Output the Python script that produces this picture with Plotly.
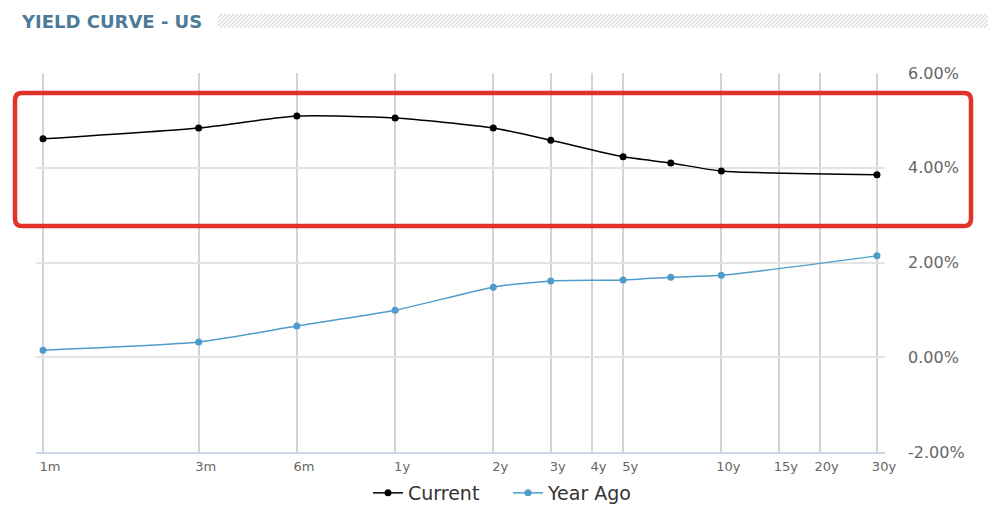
import numpy as np
import plotly.graph_objects as go

# ---------------- data ----------------
tenor_labels = ["1m", "3m", "6m", "1y", "2y", "3y", "4y", "5y", "10y", "15y", "20y", "30y"]
tenor_years = [1/12, 3/12, 6/12, 1, 2, 3, 4, 5, 10, 15, 20, 30]

point_years = [1/12, 3/12, 6/12, 1, 2, 3, 5, 7, 10, 30]
current = [4.61, 4.84, 5.09, 5.05, 4.84, 4.58, 4.23, 4.10, 3.93, 3.85]
year_ago = [0.15, 0.32, 0.66, 0.99, 1.48, 1.61, 1.63, 1.69, 1.73, 2.14]

y_ticks = [-2, 0, 2, 4, 6]
y_tick_labels = ["-2.00%", "0.00%", "2.00%", "4.00%", "6.00%"]

W, H = 1000, 526
OFF = 8  # page body margin
PX_PER_DOUBLING = 98.0
L_PX, R_PX, T_PX, B_PX = 36, 885, 73, 452


def fx(px):
    return (px - OFF) / W


def fy(py):
    return 1 - (py - OFF) / H


# log10 x range from pixel layout
lo = np.log10(1/12) - (43 - L_PX) / PX_PER_DOUBLING * np.log10(2)
hi = np.log10(30) + (R_PX - 877) / PX_PER_DOUBLING * np.log10(2)

fig = go.Figure()

fig.add_trace(go.Scatter(
    x=point_years, y=current, name="Current", mode="lines+markers",
    line=dict(color="#000000", width=1.5, shape="spline", smoothing=0.6),
    marker=dict(size=7, color="#000000"),
))
fig.add_trace(go.Scatter(
    x=point_years, y=year_ago, name="Year Ago", mode="lines+markers",
    line=dict(color="#4f9ccb", width=1.5, shape="spline", smoothing=0.6),
    marker=dict(size=7, color="#4f9ccb"),
))

shapes = []
# red highlight box with rounded corners
x0, x1, y0, y1 = fx(15), fx(971), fy(93), fy(226)
rx, ry = 7 / W, 7 / H
path = (
    f"M {x0+rx},{y0} L {x1-rx},{y0} Q {x1},{y0} {x1},{y0-ry} "
    f"L {x1},{y1+ry} Q {x1},{y1} {x1-rx},{y1} "
    f"L {x0+rx},{y1} Q {x0},{y1} {x0},{y1+ry} "
    f"L {x0},{y0-ry} Q {x0},{y0} {x0+rx},{y0} Z"
)
shapes.append(dict(type="path", xref="paper", yref="paper", path=path,
                   line=dict(color="#e2332b", width=4.5), layer="above"))

# hatched title bar
hx0, hx1, hy0, hy1 = 218, 988, 14, 28
h = hy1 - hy0
for s in np.arange(hx0 - h, hx1, 4.0):
    a, b = s, s + h
    ya, yb = hy1, hy0
    if a < hx0:
        ya = hy1 - (hx0 - a)
        a = hx0
    if b > hx1:
        yb = hy0 + (b - hx1)
        b = hx1
    if b <= a:
        continue
    shapes.append(dict(type="line", xref="paper", yref="paper",
                       x0=fx(a), y0=fy(ya), x1=fx(b), y1=fy(yb),
                       line=dict(color="#dcdcdc", width=1.2), layer="below"))

fig.update_layout(
    template="none",
    width=W, height=H,
    margin=dict(l=0, r=0, t=0, b=0, autoexpand=False),
    paper_bgcolor="white", plot_bgcolor="white",
    showlegend=True,
    legend=dict(orientation="h", x=fx(368), xanchor="left", y=fy(493), yanchor="middle",
                font=dict(family="DejaVu Sans", size=19, color="#333333"),
                itemwidth=30, entrywidth=95, tracegroupgap=0, bgcolor="rgba(0,0,0,0)"),
    font=dict(family="DejaVu Sans"),
    shapes=shapes,
    annotations=[dict(text="<b>YIELD CURVE - US</b>", xref="paper", yref="paper",
                      x=fx(19), y=fy(21), xanchor="left", yanchor="middle",
                      showarrow=False,
                      font=dict(family="DejaVu Sans", size=18, color="#4d7a99"))],
    xaxis=dict(
        type="log", domain=[fx(L_PX), fx(R_PX)], range=[lo, hi], automargin=False,
        tickvals=tenor_years, ticktext=tenor_labels,
        showgrid=True, gridcolor="#d3d3d3", gridwidth=1.5,
        showline=True, linecolor="#ccd6eb", linewidth=2,
        zeroline=False, ticks="", ticklabelshift=7, ticklabelstandoff=1,
        tickfont=dict(family="DejaVu Sans", size=13, color="#666666"),
        fixedrange=True,
    ),
    yaxis=dict(
        domain=[fy(B_PX), fy(T_PX)], range=[-2, 6], side="right", automargin=False,
        tickvals=y_ticks, ticktext=y_tick_labels,
        showgrid=True, gridcolor="#e3e3e3", gridwidth=1.5,
        zeroline=False, showline=False, ticks="", ticklabelstandoff=22,
        tickfont=dict(family="DejaVu Sans", size=16, color="#666666"),
        fixedrange=True,
    ),
)

fig.write_html("out.html")
